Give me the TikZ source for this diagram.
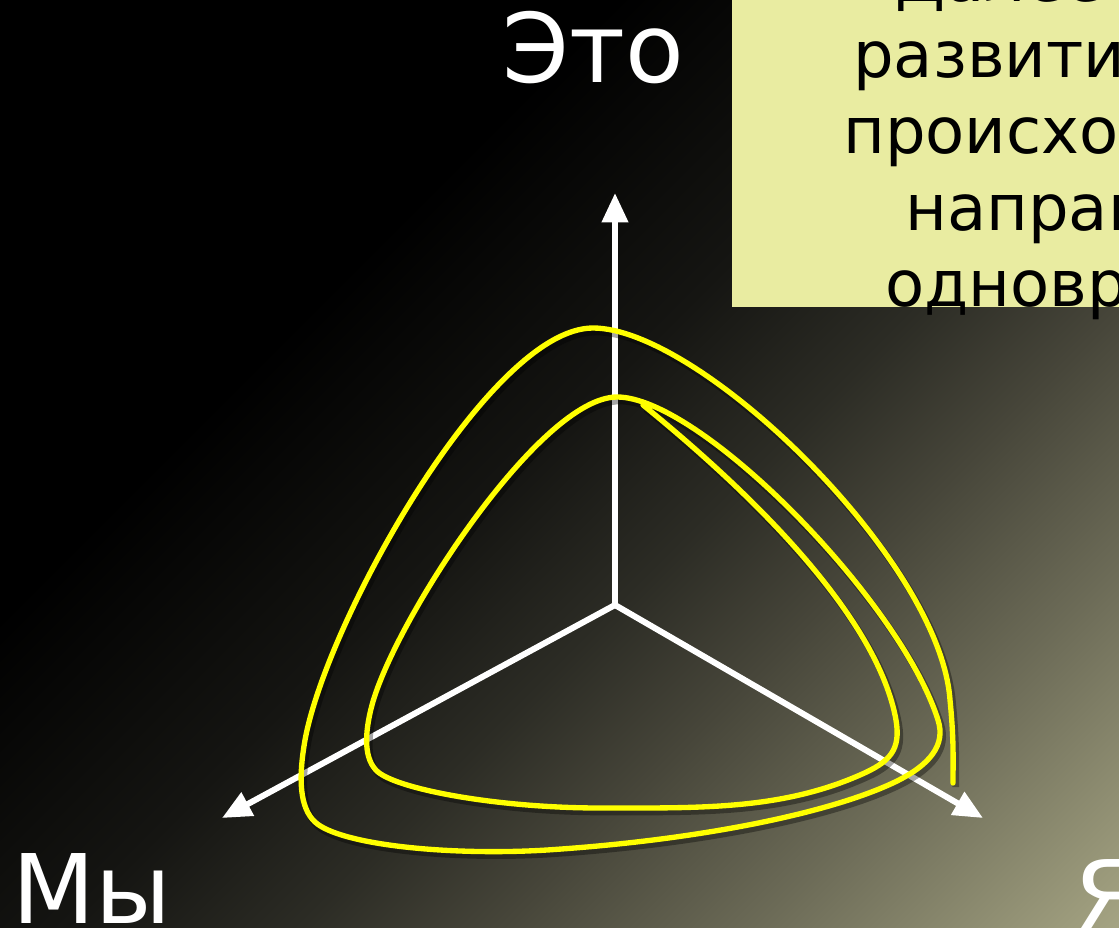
\documentclass[tikz,border=0pt]{standalone}
\usepackage{fontspec}
\setmainfont{DejaVu Sans}
\usetikzlibrary{arrows.meta}
\definecolor{notefill}{HTML}{E9ECA1}
\definecolor{spiral}{HTML}{FFFF00}
\definecolor{bgA}{HTML}{151512}
\definecolor{bgB}{HTML}{2C2C25}
\definecolor{bgC}{HTML}{47463A}
\definecolor{bgD}{HTML}{6C6B57}
\definecolor{bgE}{HTML}{A4A382}
\pgfdeclarehorizontalshading{backdrop}{100bp}{color(0bp)=(black); color(35.9bp)=(black);
  color(48.9bp)=(bgA); color(57.1bp)=(bgB); color(64.1bp)=(bgC); color(73bp)=(bgD);
  color(85.4bp)=(bgE); color(100bp)=(bgE)}
\tikzset{
  axisline/.style={draw=white, line width=4.5pt, -{Triangle[length=22pt,width=19pt]}},
  pole/.style={text=white, font=\fontsize{72}{72}\selectfont, inner sep=0pt},
  spiralline/.style={draw=spiral, line width=4pt, line cap=round, line join=round},
  note/.style={font=\fontsize{48}{57}\selectfont, text=black, inner sep=0pt, anchor=base west}
}

\begin{document}
\begin{tikzpicture}[x=0.75pt,y=-0.75pt]
  \useasboundingbox (0,0) rectangle (1119,927);
  \clip (0,0) rectangle (1119,927);
  \shade[shading=backdrop, shading angle=-45] (0,0) rectangle (1119,927);

  % note box, cut by the right edge
  \fill[notefill] (732,-10) rectangle (1140,307);
  \foreach \txt/\xpos [count=\i] in {Далее/895, развитие/853, происходит во/843, направлениях/905, одновременно/885}
    \node[note] (line\i) at (\xpos,{2+76*(\i-1)}) {\txt};

  % axes
  \coordinate (o) at (615,605);
  \coordinate (up) at (615,193);
  \coordinate (lt) at (222,818);
  \coordinate (rt) at (983,818);
  \draw[axisline] (o) -- (up);
  \draw[axisline] (o) -- (lt);
  \draw[axisline] (o) -- (rt);

  \node[pole, anchor=base] (eto) at (593,83) {Это};
  \node[pole, anchor=base west] (my) at (12,923) {Мы};
  \node[pole, anchor=base west] (ya) at (1074,929) {Я};

  % spiral, from the inside out
  \coordinate (sp0) at (643,405);
  \coordinate (sp1) at (953,783);
  \draw[spiralline, preaction={draw=black, opacity=.35, line width=5pt, transform canvas={shift={(2pt,-3pt)}}}]
    (sp0) .. controls (760,500) and (878,620) .. (896,720)
          .. controls (901,750) and (890,762) .. (860,775)
          .. controls (780,810) and (700,808) .. (600,808)
          .. controls (500,808) and (400,790) .. (378,772)
          .. controls (364,760) and (364,735) .. (372,705)
          .. controls (395,620) and (540,397) .. (617,397)
          .. controls (700,397) and (900,600) .. (938,720)
          .. controls (946,745) and (930,765) .. (895,782)
          .. controls (830,813) and (700,840) .. (547,850)
          .. controls (450,856) and (340,845) .. (315,822)
          .. controls (300,808) and (298,780) .. (305,740)
          .. controls (327,620) and (490,328) .. (593,328)
          .. controls (700,328) and (940,560) .. (950,700)
          .. controls (954,740) and (953,760) .. (sp1);
\end{tikzpicture}
\end{document}
